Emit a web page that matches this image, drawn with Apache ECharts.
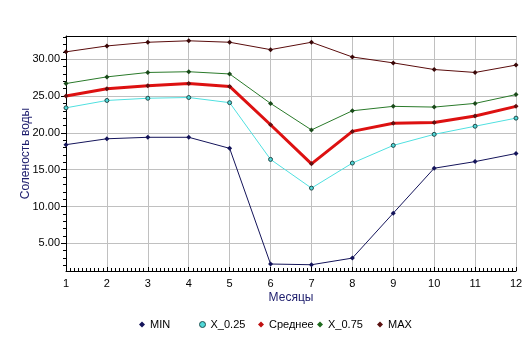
<!DOCTYPE html>
<html><head><meta charset="utf-8">
<script src="https://cdn.jsdelivr.net/npm/echarts@6/dist/echarts.min.js"></script>
<style>html,body{margin:0;padding:0;background:#fff}#c{width:532px;height:347px}</style>
</head><body><div id="c"></div>
<script>
var months = [1,2,3,4,5,6,7,8,9,10,11,12];
var minVals = [18.4,19.2,19.4,19.4,17.9,2.2,2.1,3.0,9.1,15.2,16.1,17.2];
var q25Vals = [23.4,24.4,24.7,24.8,24.1,16.4,12.5,15.9,18.3,19.8,20.9,22.0];
var meanVals = [25.0,26.0,26.4,26.7,26.3,21.1,15.8,20.2,21.3,21.4,22.3,23.6];
var q75Vals = [26.7,27.6,28.2,28.3,28.0,24.0,20.4,23.0,23.6,23.5,24.0,25.2];
var maxVals = [31.0,31.8,32.3,32.5,32.3,31.3,32.3,30.3,29.5,28.6,28.2,29.2];
var yTicks = [5,10,15,20,25,30];
var yMinorTicks = [2,3,4,6,7,8,9,11,12,13,14,16,17,18,19,21,22,23,24,26,27,28,29,31,32,33];
var seriesNames = ['MIN','X_0.25','Среднее','X_0.75','MAX'];

function pairs(v){ return months.map(function(m,i){ return [m, v[i]]; }); }
var font = 'Liberation Sans, Arial, sans-serif';
var chart = echarts.init(document.getElementById('c'), null, {renderer:'canvas'});
function mk(name, vals, color, width, sym, size, symColor, symBorder, bw){
  return {name:name, type:'line', data:pairs(vals), symbol:sym, symbolSize:size,
    showSymbol:true, animation:false,
    lineStyle:{color:color, width:width},
    itemStyle:{color:symColor, borderColor:symBorder, borderWidth:bw},
    emphasis:{disabled:true}};
}
var legendIcons = [
  {icon:'diamond', itemStyle:{color:'#14145a',borderWidth:0}},
  {icon:'circle', itemStyle:{color:'#50d8d8', borderColor:'#205050', borderWidth:1}},
  {icon:'diamond', itemStyle:{color:'#c01010',borderWidth:0}},
  {icon:'diamond', itemStyle:{color:'#1e6a1e',borderWidth:0}},
  {icon:'diamond', itemStyle:{color:'#5a1010',borderWidth:0}}
];
var legendLefts = [139, 199, 258, 317, 377];
var legends = seriesNames.map(function(n, i){
  var d = {name:n, icon:legendIcons[i].icon, itemStyle:legendIcons[i].itemStyle};
  return {left:legendLefts[i], top:319, padding:0, itemWidth:6, itemHeight:6, itemGap:0,
    selectedMode:false,
    textStyle:{fontFamily:font,fontSize:11,color:'#000'}, data:[d]};
});
chart.setOption({
  animation:false,
  textStyle:{fontFamily:font},
  grid:{left:66,right:16,top:36,bottom:76,containLabel:false},
  legend:legends,
  xAxis:[{
    type:'value', min:1, max:12, interval:1, position:'bottom',
    name:'Месяцы', nameLocation:'middle', nameGap:21, nameMoveOverlap:false,
    nameTextStyle:{fontFamily:font,fontSize:12,color:'#1c1c6c'},
    axisLine:{show:true,onZero:false,lineStyle:{color:'#000',width:1}},
    axisTick:{show:true,inside:true,length:4,lineStyle:{color:'#000'}},
    minorTick:{show:true,splitNumber:10,length:3,lineStyle:{color:'#000'}},
    axisLabel:{margin:7,fontFamily:font,fontSize:11,color:'#000'},
    splitLine:{show:true,lineStyle:{color:'#c0c0c0',width:1}}
  },{
    type:'value', min:1, max:12, position:'top',
    axisLine:{show:true,onZero:false,lineStyle:{color:'#000',width:1}},
    axisTick:{show:false}, axisLabel:{show:false}, splitLine:{show:false}
  }],
  yAxis:[{
    type:'value', min:1.25, max:33.15, position:'left',
    name:'Соленость воды', nameLocation:'middle', nameGap:34, nameRotate:90, nameMoveOverlap:false,
    nameTextStyle:{fontFamily:font,fontSize:12,color:'#1c1c6c'},
    axisLine:{show:true,onZero:false,lineStyle:{color:'#000',width:1}},
    axisTick:{show:true,length:5,customValues:yTicks,lineStyle:{color:'#000'}},
    axisLabel:{customValues:yTicks,margin:6,fontFamily:font,fontSize:11,color:'#000',
      formatter:function(v){return v.toFixed(2);}},
    splitLine:{show:true,lineStyle:{color:'#c0c0c0',width:1}}
  },{
    type:'value', min:1.25, max:33.15, position:'left',
    axisLine:{show:false},
    axisTick:{show:true,length:3,customValues:yMinorTicks,lineStyle:{color:'#000'}},
    axisLabel:{show:false}, splitLine:{show:false}
  }],
  series:[
    mk('MIN', minVals, '#14145a', 1, 'diamond', 5, '#14145a', '#0a0a30', 0),
    mk('X_0.25', q25Vals, '#50e0e0', 1, 'circle', 4, '#50d8d8', '#204848', 1),
    mk('Среднее', meanVals, '#dd1111', 3, 'diamond', 5, '#601010', '#400808', 0),
    mk('X_0.75', q75Vals, '#2a7a2a', 1, 'diamond', 5, '#1a4a1a', '#0a300a', 0),
    mk('MAX', maxVals, '#5a0c0c', 1, 'diamond', 5, '#3a0808', '#200404', 0)
  ]
});
</script></body></html>
